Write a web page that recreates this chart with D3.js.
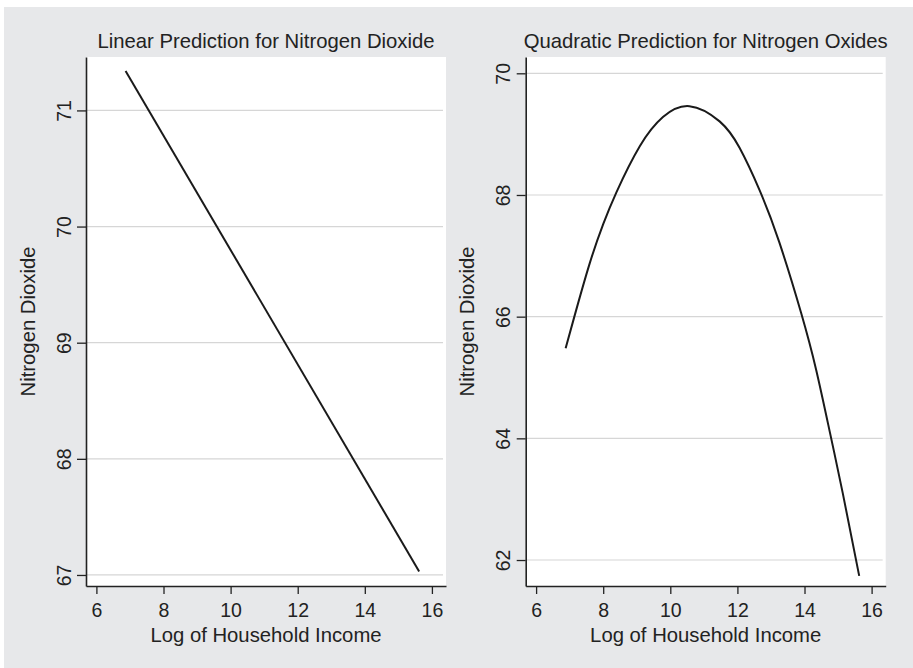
<!DOCTYPE html>
<html>
<head>
<meta charset="utf-8">
<script src="https://cdn.jsdelivr.net/npm/d3@7"></script>
<style>
    html, body { margin: 0; padding: 0; background: #fff; }
    svg text { font-family: "Liberation Sans", Arial, Helvetica, sans-serif; fill: #222; }
</style>
</head>
<body>
<div id="chart"></div>
<script>
const xTicks = [6, 8, 10, 12, 14, 16];

const linearX = [6.87, 15.62];
const linearY = [71.34, 67.03];
const linearYTicks = [67, 68, 69, 70, 71];

const quadX = [6.88, 7.13, 7.60, 8.00, 8.39, 9.09, 9.78, 10.57, 11.47, 12.06, 12.66, 13.25, 13.90, 14.35, 14.76, 15.14, 15.63];
const quadY = [65.48, 65.98, 66.88, 67.52, 68.04, 68.80, 69.28, 69.46, 69.21, 68.78, 68.08, 67.22, 66.06, 65.12, 64.09, 63.10, 61.74];
const quadYTicks = [62, 64, 66, 68, 70];

const width = 913;
const height = 668;

const svg = d3.select("#chart")
    .append("svg")
    .attr("width", width)
    .attr("height", height);

// gray outer background
svg.append("rect")
    .attr("x", 4)
    .attr("y", 7)
    .attr("width", width - 4)
    .attr("height", height - 7)
    .attr("fill", "#e7e8ea");

function panel(opts) {
    const w = 360, h = 529;
    const g = svg.append("g").attr("transform", `translate(${opts.left},57)`);

    const x = d3.scaleLinear().domain([5.69, 16.42]).range([0, w]);
    const y = d3.scaleLinear().domain(opts.yDomain).range([h, 0]);

    g.append("rect")
        .attr("width", w)
        .attr("height", h)
        .attr("fill", "#fff");

    // gridlines
    g.append("g")
        .selectAll("line")
        .data(opts.yTicks)
        .enter()
        .append("line")
        .attr("x1", 0)
        .attr("x2", w - 3)
        .attr("y1", d => y(d))
        .attr("y2", d => y(d))
        .attr("stroke", "#d6d6d6")
        .attr("stroke-width", 1.2);

    const xAxis = g.append("g")
        .attr("transform", `translate(0,${h})`)
        .call(d3.axisBottom(x).tickValues(xTicks).tickFormat(d3.format("d"))
            .tickSize(8).tickSizeOuter(0).tickPadding(9));

    const yAxis = g.append("g")
        .call(d3.axisLeft(y).tickValues(opts.yTicks).tickFormat(d3.format("d"))
            .tickSize(9).tickSizeOuter(0));

    [xAxis, yAxis].forEach(a => {
        a.select(".domain").attr("stroke", "#222").attr("stroke-width", 1.6);
        a.selectAll(".tick line").attr("stroke", "#222").attr("stroke-width", 1.3);
        a.selectAll("text").style("font-size", "19.5px").attr("fill", "#222");
    });

    yAxis.selectAll(".tick text")
        .attr("x", 0)
        .attr("y", -15.3)
        .attr("dy", 0)
        .attr("text-anchor", "middle")
        .attr("transform", "rotate(-90)");

    const line = d3.line()
        .x(d => x(d[0]))
        .y(d => y(d[1]))
        .curve(d3.curveNatural);

    g.append("path")
        .datum(opts.xs.map((v, i) => [v, opts.ys[i]]))
        .attr("d", line)
        .attr("fill", "none")
        .attr("stroke", "#1a1a1a")
        .attr("stroke-width", 2);

    g.append("text")
        .attr("x", w / 2)
        .attr("y", -8.7)
        .attr("text-anchor", "middle")
        .style("font-size", "20.3px")
        .text(opts.title);

    g.append("text")
        .attr("x", w / 2)
        .attr("y", h + 55.7)
        .attr("text-anchor", "middle")
        .style("font-size", "20.3px")
        .text("Log of Household Income");

    g.append("text")
        .attr("transform", `translate(${opts.yTitleX},${h / 2}) rotate(-90)`)
        .attr("text-anchor", "middle")
        .style("font-size", "20.3px")
        .text("Nitrogen Dioxide");
}

panel({
    left: 86,
    yDomain: [66.905, 71.46],
    yTicks: linearYTicks,
    xs: linearX,
    ys: linearY,
    title: "Linear Prediction for Nitrogen Dioxide",
    yTitleX: -51.5
});

panel({
    left: 525.7,
    yDomain: [61.573, 70.268],
    yTicks: quadYTicks,
    xs: quadX,
    ys: quadY,
    title: "Quadratic Prediction for Nitrogen Oxides",
    yTitleX: -51.5
});
</script>
</body>
</html>
